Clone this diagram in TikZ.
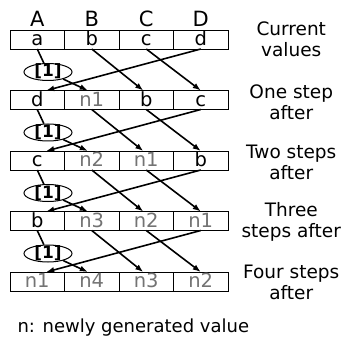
\documentclass[tikz,border=0pt]{standalone}
\usepackage{fontspec}
\setmainfont{DejaVu Sans}
\usetikzlibrary{arrows.meta,positioning,shapes.geometric}

\begin{document}
\begin{tikzpicture}[
      x=1pt, y=1pt,
      font=\fontsize{19.5}{22}\selectfont,
      node distance=41.5pt,
      cell/.style={draw, line width=0.9pt, minimum width=54.5pt, minimum height=19pt,
                   inner sep=0pt, outer sep=0pt, text height=14.5pt, text depth=2pt},
      newval/.style={cell, text=black!55},
      head/.style={inner sep=0pt, font=\fontsize{21}{24}\selectfont},
      shiftop/.style={draw, ellipse, line width=1pt, minimum width=48pt,
                      minimum height=17pt, inner sep=0pt, text height=10pt, text depth=0pt,
                      font=\fontsize{17}{17}\selectfont\bfseries},
      steplbl/.style={align=center, font=\fontsize{18.5}{21}\selectfont},
      arr/.style={-{Latex[length=8pt,width=6pt]}, line width=1.6pt}
    ]
    \useasboundingbox (0,0) rectangle (344,-336);
    % current values
    \node[cell] (a0) at (37.25,-39.5) {a};
    \node[cell, right=0pt of a0] (b0) {b};
    \node[cell, right=0pt of b0] (c0) {c};
    \node[cell, right=0pt of c0] (d0) {d};
    \node[head, above=3pt of a0] (hA) {A};
    \node[head, above=3pt of b0] (hB) {B};
    \node[head, above=3pt of c0] (hC) {C};
    \node[head, above=3pt of d0] (hD) {D};
    % one step after
    \node[cell]   (a1) [below=of a0] {d};
    \node[newval] (b1) [right=0pt of a1] {n1};
    \node[cell]   (c1) [right=0pt of b1] {b};
    \node[cell]   (d1) [right=0pt of c1] {c};
    % two steps after
    \node[cell]   (a2) [below=of a1] {c};
    \node[newval] (b2) [right=0pt of a2] {n2};
    \node[newval] (c2) [right=0pt of b2] {n1};
    \node[cell]   (d2) [right=0pt of c2] {b};
    % three steps after
    \node[cell]   (a3) [below=of a2] {b};
    \node[newval] (b3) [right=0pt of a3] {n3};
    \node[newval] (c3) [right=0pt of b3] {n2};
    \node[newval] (d3) [right=0pt of c3] {n1};
    % four steps after
    \node[newval] (a4) [below=of a3] {n1};
    \node[newval] (b4) [right=0pt of a4] {n4};
    \node[newval] (c4) [right=0pt of b4] {n3};
    \node[newval] (d4) [right=0pt of c4] {n2};
    % step labels
    \node[steplbl, xshift=90.5pt] (l0) at (d0) {Current\\values};
    \node[steplbl, xshift=90.5pt, yshift=-2pt] (l1) at (d1) {One step\\after};
    \node[steplbl, xshift=90.5pt, yshift=-2pt] (l2) at (d2) {Two steps\\after};
    \node[steplbl, xshift=90.5pt, yshift=-1pt] (l3) at (d3) {Three\\steps after};
    \node[steplbl, xshift=90.5pt, yshift=-1pt] (l4) at (d4) {Four steps\\after};
    \node[anchor=base west, font=\fontsize{18}{21}\selectfont] (note) at (14,-332)
      {n: newly generated value};
    % shift by one place, new value enters at B
    \foreach \i/\j in {0/1,1/2,2/3,3/4} {
      \node[shiftop, below=14pt of a\i.south, xshift=10.75pt] (op\i) {[1]};
      \draw[line width=1.6pt] (a\i.south) -- (op\i);
      \draw[arr] (op\i) -- ([xshift=-4pt]b\j.north);
      \draw[arr] (b\i.south) -- ([xshift=-3pt]c\j.north);
      \draw[arr] (c\i.south) -- (d\j.north);
      \draw[arr] (d\i.south) -- ([xshift=9pt]a\j.north);
    }
  \end{tikzpicture}
\end{document}
